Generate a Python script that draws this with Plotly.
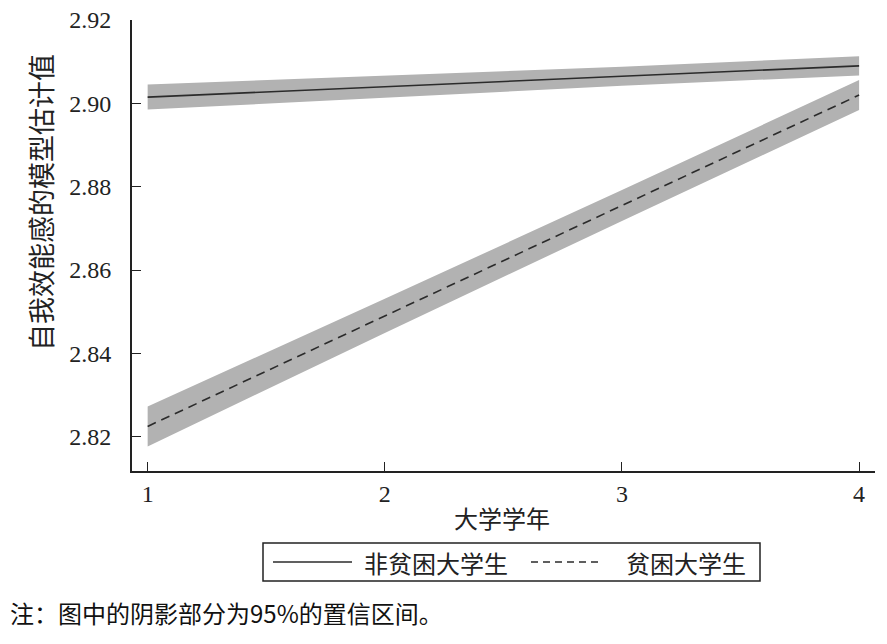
import plotly.graph_objects as go

# ---- data ----
years = [1, 2, 3, 4]
nonpoor_est = [2.9015, 2.9040, 2.9065, 2.9090]
nonpoor_half = [0.0030, 0.0026, 0.0023, 0.0023]
poor_est = [2.8225, 2.8490, 2.8755, 2.9020]
poor_half = [0.0048, 0.0041, 0.0037, 0.0036]

series_names = ["非贫困大学生", "贫困大学生"]
x_title = "大学学年"
y_title = "自我效能感的模型估计值"
note = "注：图中的阴影部分为95%的置信区间。"
y_ticks = [2.82, 2.84, 2.86, 2.88, 2.90, 2.92]
y_ticklabels = ["2.82", "2.84", "2.86", "2.88", "2.90", "2.92"]

BAND = "#b2b2b2"
LINE = "#2b2b2b"
CJK = "Noto Sans CJK SC, Noto Sans, sans-serif"
SERIF = "Liberation Serif, DejaVu Serif, serif"


def band(x, est, half):
    up = [e + h for e, h in zip(est, half)]
    lo = [e - h for e, h in zip(est, half)]
    return x + x[::-1], up + lo[::-1]


fig = go.Figure()
for est, half in [(nonpoor_est, nonpoor_half), (poor_est, poor_half)]:
    bx, by = band(years, est, half)
    fig.add_trace(go.Scatter(x=bx, y=by, fill="toself", fillcolor=BAND,
                             line=dict(width=0), mode="lines",
                             hoverinfo="skip", showlegend=False))

fig.add_trace(go.Scatter(x=years, y=nonpoor_est, mode="lines", name=series_names[0],
                         line=dict(color=LINE, width=1.6), showlegend=False))
fig.add_trace(go.Scatter(x=years, y=poor_est, mode="lines", name=series_names[1],
                         line=dict(color=LINE, width=1.6, dash="9px,6px"), showlegend=False))

# page has an 8px body margin -> figure origin sits at (8, 8) of the window
OFF = 8
FW, FH = 887 - OFF, 644 - OFF
# plot-area geometry in window pixels
L, R, T, B = 132, 875, 20, 471
W, H = R - L, B - T


def px(xp):
    return (xp - L) / W


def py(yp):
    return (B - yp) / H


shapes = [
    dict(type="rect", xref="paper", yref="paper", x0=px(263), x1=px(760),
         y0=py(581), y1=py(543), line=dict(color="#222", width=1.5)),
    dict(type="line", xref="paper", yref="paper", x0=px(273), x1=px(352),
         y0=py(562), y1=py(562), line=dict(color=LINE, width=1.6)),
    dict(type="line", xref="paper", yref="paper", x0=px(531), x1=px(600),
         y0=py(562), y1=py(562), line=dict(color=LINE, width=1.6, dash="7px,5px")),
]

annotations = [
    dict(text=series_names[0], xref="paper", yref="paper", x=px(436), y=py(562),
         showarrow=False, font=dict(family=CJK, size=24, color="#222"),
         xanchor="center", yanchor="middle"),
    dict(text=series_names[1], xref="paper", yref="paper", x=px(686), y=py(562),
         showarrow=False, font=dict(family=CJK, size=24, color="#222"),
         xanchor="center", yanchor="middle"),
    dict(text=x_title, xref="paper", yref="paper", x=px(502), y=py(517),
         showarrow=False, font=dict(family=CJK, size=24, color="#222"),
         xanchor="center", yanchor="middle"),
    dict(text=y_title, xref="paper", yref="paper", x=px(40), y=py(203),
         showarrow=False, textangle=-90, font=dict(family=CJK, size=27, color="#222"),
         xanchor="center", yanchor="middle"),
    dict(text=note, xref="paper", yref="paper", x=px(8), y=py(612),
         showarrow=False, font=dict(family=CJK, size=24, color="#111"),
         xanchor="left", yanchor="middle"),
]

fig.update_layout(
    width=FW, height=FH,
    margin=dict(l=L - OFF, r=887 - R, t=T - OFF, b=644 - B),
    paper_bgcolor="white", plot_bgcolor="white",
    showlegend=False,
    shapes=shapes, annotations=annotations,
    xaxis=dict(range=[0.934, 4.067], tickvals=years, ticktext=[str(v) for v in years],
               ticks="inside", ticklen=9, tickwidth=1.3, tickcolor="#222",
               showline=True, linecolor="#222", linewidth=1.8, mirror=False,
               showgrid=False, zeroline=False, ticklabelstandoff=0, automargin=False,
               ticklabeloverflow="allow",
               tickfont=dict(family=SERIF, size=24, color="#222")),
    yaxis=dict(range=[2.8118, 2.92], tickvals=y_ticks, ticktext=y_ticklabels,
               ticks="inside", ticklen=9, tickwidth=1.3, tickcolor="#222",
               showline=True, linecolor="#222", linewidth=1.8, mirror=False,
               showgrid=False, zeroline=False, ticklabelstandoff=14, automargin=False,
               ticklabeloverflow="allow",
               tickfont=dict(family=SERIF, size=24, color="#222")),
)

fig.write_html("out.html")
